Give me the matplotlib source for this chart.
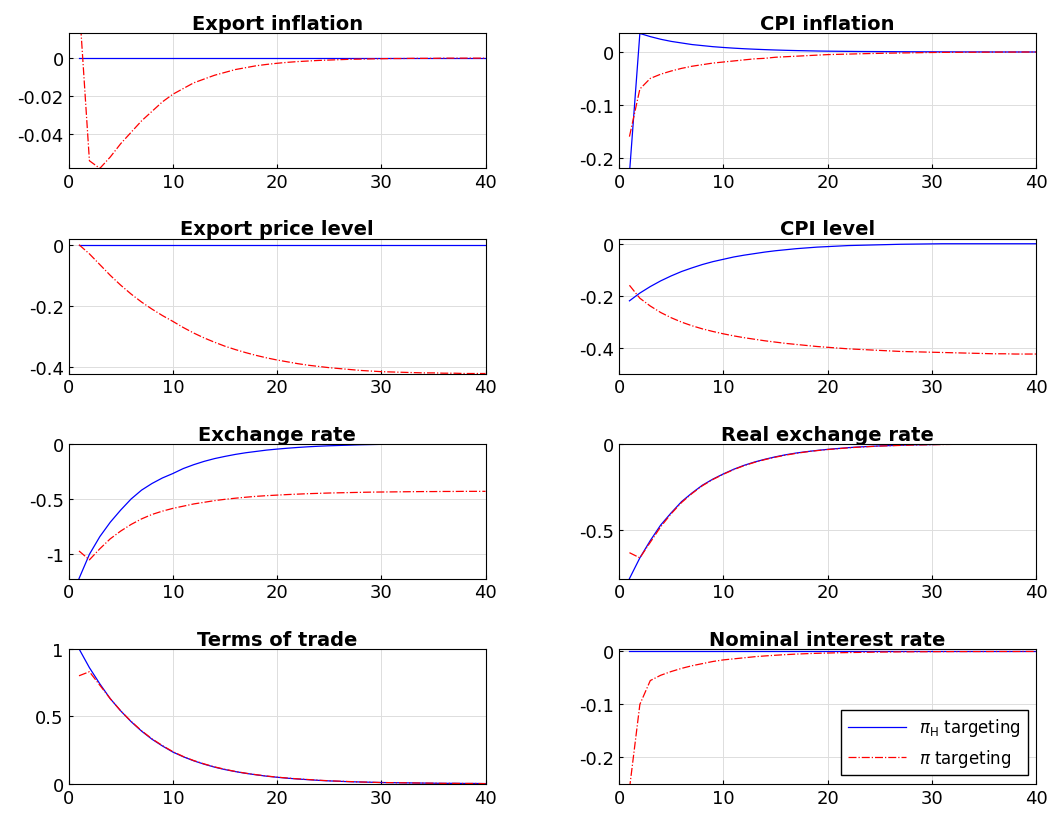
import numpy as np
import matplotlib
matplotlib.use("Agg")
import matplotlib.pyplot as plt

periods = list(range(1, 41))
zero40 = [0.0] * 40

export_infl_red = [0.03, -0.054, -0.058, -0.052, -0.045, -0.039, -0.033, -0.028, -0.023, -0.019,
                   -0.016, -0.013, -0.011, -0.009, -0.0075, -0.006, -0.005, -0.004, -0.0033, -0.0027,
                   -0.0022, -0.0018, -0.0015, -0.0012, -0.001, -0.0008, -0.0006, -0.0005, -0.0004, -0.0003,
                   -0.0002, -0.0002, -0.0001, -0.0001, -0.0001, 0, 0, 0, 0, 0]
cpi_infl_blue = [-0.23, 0.035, 0.029, 0.024, 0.02, 0.017, 0.014, 0.012, 0.01, 0.0085,
                 0.0072, 0.0061, 0.0052, 0.0044, 0.0037, 0.0031, 0.0026, 0.0022, 0.0018, 0.0015,
                 0.0013, 0.0011, 0.0009, 0.0008, 0.0007, 0.0006, 0.0005, 0.0004, 0.0003, 0.0003,
                 0.0002, 0.0002, 0.0001, 0.0001, 0.0001, 0, 0, 0, 0, 0]
cpi_infl_red = [-0.16, -0.07, -0.05, -0.042, -0.036, -0.031, -0.027, -0.024, -0.021, -0.019,
                -0.017, -0.015, -0.013, -0.012, -0.01, -0.009, -0.008, -0.007, -0.006, -0.005,
                -0.0045, -0.004, -0.0035, -0.003, -0.0026, -0.0022, -0.0019, -0.0016, -0.0013, -0.001,
                -0.0008, -0.0007, -0.0006, -0.0005, -0.0004, -0.0003, -0.0002, -0.0002, -0.0001, -0.0001]
export_price_red = [0.0, -0.03, -0.065, -0.1, -0.132, -0.161, -0.187, -0.21, -0.231, -0.25,
                    -0.27, -0.288, -0.304, -0.318, -0.331, -0.342, -0.352, -0.361, -0.369, -0.376,
                    -0.382, -0.388, -0.393, -0.397, -0.401, -0.404, -0.407, -0.41, -0.412, -0.414,
                    -0.415, -0.416, -0.417, -0.418, -0.418, -0.419, -0.419, -0.42, -0.42, -0.42]
cpi_level_blue = [-0.22, -0.19, -0.165, -0.143, -0.124, -0.107, -0.093, -0.08, -0.069, -0.06,
                  -0.051, -0.044, -0.038, -0.032, -0.027, -0.023, -0.019, -0.016, -0.013, -0.011,
                  -0.009, -0.007, -0.006, -0.005, -0.004, -0.003, -0.002, -0.0015, -0.001, -0.0005,
                  0, 0, 0, 0, 0, 0, 0, 0, 0, 0]
cpi_level_red = [-0.16, -0.21, -0.24, -0.265, -0.285, -0.302, -0.316, -0.328, -0.338, -0.347,
                 -0.355, -0.362, -0.368, -0.374, -0.379, -0.384, -0.388, -0.392, -0.396, -0.399,
                 -0.402, -0.405, -0.407, -0.409, -0.411, -0.413, -0.415, -0.416, -0.417, -0.418,
                 -0.419, -0.42, -0.421, -0.422, -0.423, -0.424, -0.424, -0.425, -0.425, -0.425]
fx_blue = [-1.22, -1.0, -0.84, -0.71, -0.6, -0.5, -0.42, -0.36, -0.31, -0.27,
           -0.225, -0.19, -0.16, -0.135, -0.115, -0.097, -0.082, -0.07, -0.058, -0.049,
           -0.041, -0.034, -0.028, -0.023, -0.019, -0.016, -0.013, -0.01, -0.008, -0.006,
           -0.005, -0.004, -0.003, -0.002, -0.002, -0.001, -0.001, 0, 0, 0]
fx_red = [-0.97, -1.05, -0.95, -0.86, -0.79, -0.73, -0.68, -0.64, -0.61, -0.585,
          -0.565, -0.545, -0.53, -0.515, -0.503, -0.493, -0.484, -0.476, -0.47, -0.465,
          -0.46, -0.456, -0.452, -0.449, -0.446, -0.444, -0.442, -0.44, -0.438, -0.437,
          -0.436, -0.435, -0.434, -0.433, -0.433, -0.432, -0.432, -0.431, -0.431, -0.431]
rer_blue = [-0.78, -0.66, -0.56, -0.47, -0.4, -0.335, -0.285, -0.24, -0.205, -0.175,
            -0.148, -0.125, -0.106, -0.09, -0.076, -0.064, -0.054, -0.046, -0.039, -0.033,
            -0.028, -0.023, -0.019, -0.016, -0.013, -0.011, -0.009, -0.007, -0.006, -0.005,
            -0.004, -0.003, -0.002, -0.002, -0.001, -0.001, 0, 0, 0, 0]
rer_red = [-0.63, -0.66, -0.57, -0.48, -0.405, -0.34, -0.288, -0.243, -0.207, -0.177,
           -0.15, -0.127, -0.108, -0.092, -0.078, -0.066, -0.056, -0.047, -0.04, -0.034,
           -0.029, -0.024, -0.02, -0.017, -0.014, -0.012, -0.01, -0.008, -0.007, -0.006,
           -0.005, -0.004, -0.003, -0.002, -0.002, -0.001, -0.001, 0, 0, 0]
tot_blue = [1.0, 0.86, 0.74, 0.63, 0.54, 0.46, 0.39, 0.33, 0.28, 0.235,
            0.2, 0.17, 0.145, 0.123, 0.105, 0.09, 0.077, 0.066, 0.056, 0.048,
            0.041, 0.035, 0.03, 0.025, 0.021, 0.018, 0.015, 0.013, 0.011, 0.009,
            0.008, 0.007, 0.006, 0.005, 0.004, 0.003, 0.003, 0.002, 0.002, 0.001]
tot_red = [0.8, 0.83, 0.73, 0.63, 0.54, 0.462, 0.393, 0.333, 0.283, 0.238,
           0.202, 0.172, 0.147, 0.125, 0.107, 0.091, 0.078, 0.067, 0.057, 0.049,
           0.042, 0.036, 0.031, 0.026, 0.022, 0.019, 0.016, 0.013, 0.011, 0.009,
           0.008, 0.007, 0.006, 0.005, 0.004, 0.003, 0.003, 0.002, 0.002, 0.001]
rate_red = [-0.26, -0.1, -0.055, -0.045, -0.038, -0.032, -0.027, -0.023, -0.019, -0.016,
            -0.014, -0.012, -0.01, -0.0085, -0.0072, -0.006, -0.005, -0.0042, -0.0035, -0.003,
            -0.0025, -0.0021, -0.0018, -0.0015, -0.0012, -0.001, -0.0008, -0.0007, -0.0006, -0.0005,
            -0.0004, -0.0003, -0.0003, -0.0002, -0.0002, -0.0001, -0.0001, -0.0001, 0, 0]

panels = [
    ("Export inflation", zero40, export_infl_red, (-0.058, 0.013), [-0.04, -0.02, 0], ["-0.04", "-0.02", "0"]),
    ("CPI inflation", cpi_infl_blue, cpi_infl_red, (-0.22, 0.035), [-0.2, -0.1, 0], ["-0.2", "-0.1", "0"]),
    ("Export price level", zero40, export_price_red, (-0.42, 0.02), [-0.4, -0.2, 0], ["-0.4", "-0.2", "0"]),
    ("CPI level", cpi_level_blue, cpi_level_red, (-0.5, 0.02), [-0.4, -0.2, 0], ["-0.4", "-0.2", "0"]),
    ("Exchange rate", fx_blue, fx_red, (-1.22, 0.0), [-1, -0.5, 0], ["-1", "-0.5", "0"]),
    ("Real exchange rate", rer_blue, rer_red, (-0.78, 0.0), [-0.5, 0], ["-0.5", "0"]),
    ("Terms of trade", tot_blue, tot_red, (0, 1), [0, 0.5, 1], ["0", "0.5", "1"]),
    ("Nominal interest rate", zero40, rate_red, (-0.25, 0.005), [-0.2, -0.1, 0], ["-0.2", "-0.1", "0"]),
]

fig, axes = plt.subplots(4, 2, figsize=(10.55, 8.2), dpi=100)
plt.subplots_adjust(left=0.065, right=0.982, top=0.958, bottom=0.043, hspace=0.52, wspace=0.32)

for ax, (title, blue, red, ylim, yt, ytl) in zip(axes.flat, panels):
    ax.plot(periods, blue, color="blue", lw=0.9, label=r"$\pi_{\rm H}$ targeting")
    ax.plot(periods, red, color="red", lw=0.9, ls="-.", label=r"$\pi$ targeting")
    ax.set_title(title, fontweight="bold", fontsize=14, pad=3)
    ax.set_xlim(0, 40)
    ax.set_ylim(*ylim)
    ax.set_xticks([0, 10, 20, 30, 40])
    ax.set_yticks(yt)
    ax.set_yticklabels(ytl)
    ax.tick_params(labelsize=13, direction="in", length=3)
    ax.grid(True, color="#dddddd", lw=0.7)

axes[3, 1].legend(loc="lower right", fontsize=12, framealpha=1, edgecolor="black",
                  fancybox=False, handlelength=3.5)

plt.savefig("out.png")
